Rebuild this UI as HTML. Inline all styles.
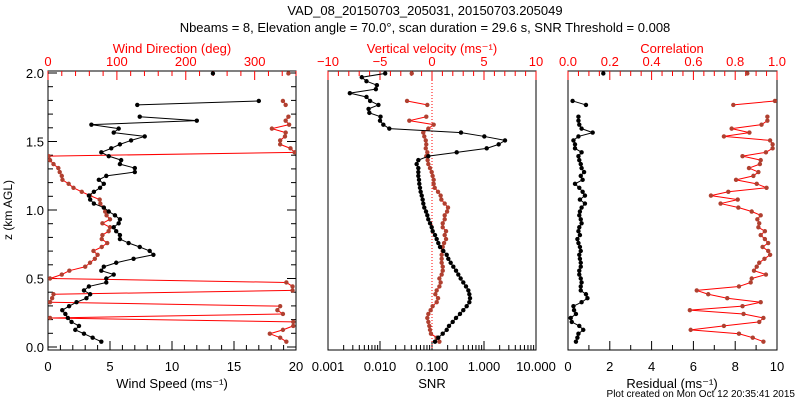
<!DOCTYPE html>
<html><head><meta charset="utf-8"><style>
html,body{margin:0;padding:0;background:#fff;width:800px;height:400px;overflow:hidden}
svg{display:block;font-family:"Liberation Sans",sans-serif}
</style></head><body>
<svg id="c" width="800" height="400" viewBox="0 0 800 400">
<text x="425" y="15" text-anchor="middle" font-size="13">VAD_08_20150703_205031, 20150703.205049</text>
<text x="425" y="32" text-anchor="middle" font-size="13">Nbeams = 8, Elevation angle = 70.0°, scan duration = 29.6 s, SNR Threshold = 0.008</text>
<text x="795" y="397" text-anchor="end" font-size="10">Plot created on Mon Oct 12 20:35:41 2015</text>
<text transform="translate(12,210) rotate(-90)" text-anchor="middle" font-size="12">z (km AGL)</text>
</svg>
<script>
const heights=[0.039,0.068,0.097,0.125,0.154,0.183,0.212,0.241,0.269,0.298,0.327,0.356,0.385,0.413,0.442,0.471,0.500,0.529,0.557,0.586,0.615,0.644,0.673,0.701,0.730,0.759,0.788,0.817,0.845,0.874,0.903,0.932,0.961,0.989,1.018,1.047,1.076,1.105,1.133,1.162,1.191,1.220,1.249,1.277,1.306,1.335,1.364,1.393,1.421,1.450,1.479,1.508,1.537,1.565,1.594,1.623,1.652,1.681,1.709,1.738,1.767,1.796,1.825,1.853,1.882,1.911,1.940,1.969,1.997];
const windSpeed=[4.3,3.6,2.9,2.2,2.5,1.9,1.6,1.4,1.15,1.7,2.3,3.1,3.4,2.9,3.3,4.7,4.7,5.3,4.3,4.5,5.5,6.9,8.5,8.2,7.4,6.5,5.8,5.8,5.5,5.3,5.7,5.8,5.4,4.9,4.5,3.7,3.4,3.3,3.7,4.2,4.5,4.1,4.7,7.0,7.0,5.8,5.9,4.9,4.3,5.1,5.8,6.7,7.8,5.3,5.7,3.5,12.0,7.4,null,null,7.2,17.0,null,null,null,null,null,null,13.3];
const windDir=[346,337,322,341,356,356,3,341,333,337,3,6,8,355,355,346,3,20,31,54,61,68,72,66,78,86,78,79,88,90,79,90,85,83,81,76,75,61,49,37,30,21,20,17,15,8,3,1,358,352,337,337,344,345,325,350,345,349,null,null,345,341,null,null,null,null,null,null,349];
const snrLog=[-0.942,-0.879,-0.794,-0.717,-0.673,-0.602,-0.538,-0.462,-0.398,-0.333,-0.282,-0.269,-0.282,-0.301,-0.346,-0.398,-0.449,-0.494,-0.538,-0.590,-0.641,-0.686,-0.717,-0.782,-0.846,-0.879,-0.910,-0.942,-0.987,-1.006,-1.038,-1.071,-1.090,-1.115,-1.148,-1.167,-1.180,-1.198,-1.218,-1.231,-1.244,-1.250,-1.263,-1.263,-1.263,-1.295,-1.263,-1.071,-0.525,0.052,0.282,0.404,0.006,-0.442,-1.821,-1.936,-2.0,-1.99,-2.205,-2.22,-2.03,-2.19,-2.26,-2.58,-2.08,-2.06,-2.26,-2.35,-1.90];
const vertVel=[0.71,0.45,-0.1,-0.19,-0.26,-0.35,-0.45,-0.35,-0.13,0.06,0.45,0.58,0.32,0.45,0.71,0.83,0.71,0.93,1.03,1.03,0.93,0.93,0.93,1.03,1.03,1.16,1.35,1.22,1.35,1.03,1.03,1.22,1.22,1.45,1.54,1.22,0.9,0.83,0.58,0.26,0.16,0.16,0.06,-0.03,-0.19,-0.35,-0.42,-0.55,-0.45,-0.6,-0.55,-0.6,-0.74,-0.84,-0.35,0.16,-2.18,-0.55,null,null,-0.45,-2.4,null,null,null,null,null,null,-1.95];
const residual=[0.38,0.45,0.5,0.73,0.54,0.18,0.13,0.38,0.29,0.26,0.65,0.93,0.86,0.61,0.61,0.65,0.61,0.54,0.54,0.61,0.61,0.57,0.54,0.61,0.57,0.5,0.45,0.57,0.5,0.54,0.65,0.61,0.54,0.57,0.65,0.81,0.57,0.81,0.70,0.54,0.335,0.70,0.61,0.77,0.65,0.61,0.54,0.5,0.65,0.335,0.335,0.26,0.5,1.18,0.65,0.54,0.5,0.5,null,null,0.86,0.22,null,null,null,null,null,null,1.69];
const correlation=[0.935,0.884,0.818,0.587,0.746,0.915,0.935,0.84,0.583,0.835,0.922,0.762,0.671,0.616,0.818,0.874,0.879,0.947,0.89,0.903,0.915,0.94,0.967,0.958,0.931,0.958,0.942,0.922,0.942,0.911,0.915,0.906,0.922,0.879,0.815,0.73,0.812,0.684,0.767,0.95,0.903,0.804,0.887,0.911,0.866,0.918,0.922,0.835,0.947,0.979,0.979,0.967,0.746,0.868,0.783,0.926,0.954,0.954,null,null,0.791,0.99,null,null,null,null,null,null,0.858];
const ws_ticks=["0","5","10","15","20"];
const wd_ticks=["0","100","200","300"];
const snr_ticks=["0.001","0.010","0.100","1.000","10.000"];
const w_ticks=["−10","−5","0","5","10"];
const res_ticks=["0","2","4","6","8","10"];
const corr_ticks=["0.0","0.2","0.4","0.6","0.8","1.0"];
const z_ticks=["0.0","0.5","1.0","1.5","2.0"];

const NS="http://www.w3.org/2000/svg";
const svg=document.getElementById('c');
const TOP=71,BOT=350;
const yS=z=>347-z*137;
const RED="#ff0000",MK="#b04030";
function mk(tag,attrs,parent){const e=document.createElementNS(NS,tag);for(const k in attrs)e.setAttribute(k,attrs[k]);(parent||svg).appendChild(e);return e;}
function txt(x,y,s,fill,anchor,size,parent){const t=mk('text',{x:x,y:y,fill:fill,'text-anchor':anchor||'middle','font-size':size||12},parent);t.textContent=s;return t;}

const panels=[{x0:48,x1:296,name:'wind'},{x0:328,x1:536,name:'snr'},{x0:568,x1:777,name:'residual'}];
panels.forEach((p,i)=>{
  const g=mk('g',{});
  
  
  p.g=g;
  const cp=mk('clipPath',{id:'clip'+i},g);
  mk('rect',{x:p.x0,y:TOP,width:p.x1-p.x0,height:BOT-TOP},cp);
  const r=mk('rect',{x:p.x0,y:TOP,width:p.x1-p.x0,height:BOT-TOP,fill:'none',stroke:'#000','stroke-width':1},g);
  
  
});

function linAxis(p,lo,hi,majStep,minStep,labels,color,top,title,titleName){
  const sx=v=>p.x0+(v-lo)/(hi-lo)*(p.x1-p.x0);
  const y=top?TOP:BOT, d=top?1:-1;
  const ag=mk('g',{stroke:color,'stroke-width':1},p.g);
  
  
  const n=Math.round((hi-lo)/minStep);
  for(let k=0;k<=n;k++){const v=lo+k*minStep;const x=sx(v);const maj=Math.abs(v/majStep-Math.round(v/majStep))<1e-6;
    mk('line',{x1:x,x2:x,y1:y,y2:y+d*(maj?9:5)},ag);}
  labels.forEach((s,k)=>{const t=txt(sx(lo+k*majStep),top?66:371,s,color,'middle',13,p.g);
    
    });
  return sx;
}
const p1=panels[0],p2=panels[1],p3=panels[2];
const sWS=linAxis(p1,0,20,5,1,ws_ticks,'#000',false,'','wind-speed');
const sWD=linAxis(p1,0,360,100,20,wd_ticks,RED,true,'','wind-direction');
const sW=linAxis(p2,-10,10,5,1,w_ticks,RED,true,'','vertical-velocity');
const sRes=linAxis(p3,0,10,2,1,res_ticks,'#000',false,'','residual');
const sCorr=linAxis(p3,0,1,0.2,0.05,corr_ticks,RED,true,'','correlation');
const sSNR=v=>p2.x0+(v+3)/4*(p2.x1-p2.x0);
{const ag=mk('g',{stroke:'#000'},p2.g);
 
 
 for(let e=-3;e<=1;e++){for(let m=1;m<=9;m++){if(e==1&&m>1)break;const x=sSNR(e+Math.log10(m));mk('line',{x1:x,x2:x,y1:BOT,y2:BOT-(m==1?9:5)},ag);}}
 snr_ticks.forEach((s,k)=>{const t=txt(sSNR(-3+k),371,s,'#000','middle',13,p2.g);
   
   });}
{const ag=mk('g',{stroke:'#000'},p1.g);
 
 
 for(let k=0;k<=20;k++){const z=k*0.1;const y=yS(z);const L=(k%5==0)?9:5;
   mk('line',{x1:p1.x0,x2:p1.x0+L,y1:y,y2:y},ag);mk('line',{x1:p1.x1,x2:p1.x1-L,y1:y,y2:y},ag);}
 z_ticks.forEach((s,k)=>{const t=txt(44,yS(k*0.5)+5,s,'#000','end',13,p1.g);
   
   });}
[[172,53,'Wind Direction (deg)',RED,'wind-direction-title'],[432,53,'Vertical velocity (ms⁻¹)',RED,'vertical-velocity-title'],[672,53,'Correlation',RED,'correlation-title'],
 [172,388,'Wind Speed (ms⁻¹)','#000','wind-speed-title'],[432,388,'SNR','#000','snr-title'],[672,388,'Residual (ms⁻¹)','#000','residual-title']].forEach(a=>{
  const t=txt(a[0],a[1],a[2],a[3],'middle',13);
  
  });
{const x=sW(0);const l=mk('line',{x1:x,x2:x,y1:TOP,y2:BOT,stroke:RED,'stroke-dasharray':'1,2'},p2.g);
 
 }

function series(p,idx,vals,sx,lc,mc,name){
  const g=mk('g',{'clip-path':'url(#clip'+idx+')'},p.g);
  
  
  for(let i=0;i<vals.length-1;i++){if(vals[i]==null||vals[i+1]==null)continue;
    mk('line',{x1:sx(vals[i]),y1:yS(heights[i]),x2:sx(vals[i+1]),y2:yS(heights[i+1]),stroke:lc,'stroke-width':1},g);}
  vals.forEach((v,i)=>{if(v==null)return;
    const c=mk('circle',{cx:sx(v),cy:yS(heights[i]),r:2.2,fill:mc},g);
    
    });
}
series(p1,0,windDir,sWD,RED,MK,'wind-direction');
series(p1,0,windSpeed,sWS,'#000','#000','wind-speed');
series(p2,1,vertVel,sW,RED,MK,'vertical-velocity');
series(p2,1,snrLog,sSNR,'#000','#000','snr');
series(p3,2,correlation,sCorr,RED,MK,'correlation');
series(p3,2,residual,sRes,'#000','#000','residual');
</script>
</body></html>
